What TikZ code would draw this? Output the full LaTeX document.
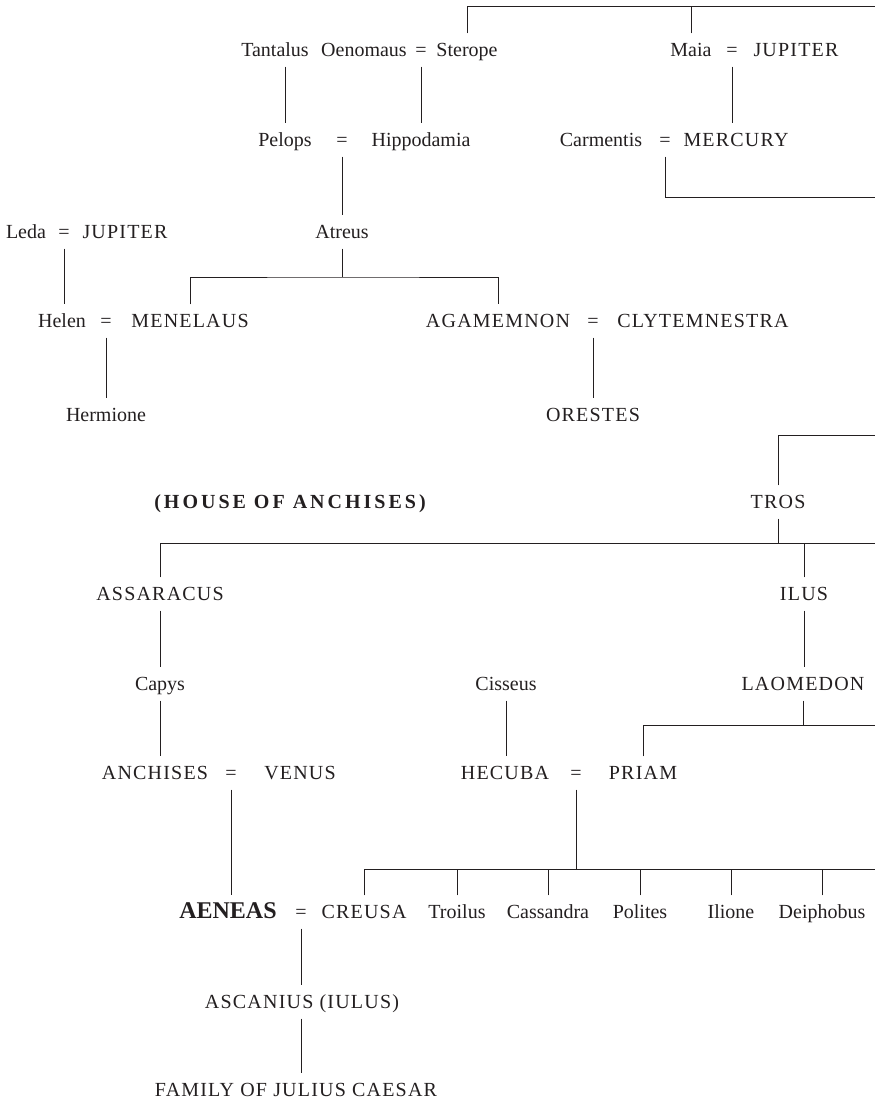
\documentclass[tikz,border=0pt]{standalone}
\usepackage{fontspec}
\setmainfont{Liberation Serif}
\newfontfamily\capsfont[LetterSpace=6]{Liberation Serif}
\newfontfamily\housefont[LetterSpace=15]{Liberation Serif}
\usepackage{tikz}
\definecolor{ink}{HTML}{231F20}
\tikzset{
  kin/.style={
    inner xsep=1pt, inner ysep=8pt, text height=15pt, text depth=2pt,
    text=ink, font=\fontsize{20}{23}\selectfont
  },
  royal/.style={kin, font=\fontsize{20}{23}\selectfont\capsfont},
  wed/.style={kin},
  hero/.style={kin, font=\fontsize{24}{28}\selectfont\bfseries},
  house/.style={kin, font=\fontsize{20}{23}\selectfont\housefont\bfseries},
  link/.style={draw=ink, line width=0.75pt},
}

\begin{document}
\begin{tikzpicture}[x=1pt, y=-1pt]
  \useasboundingbox (0,0) rectangle (875,1102);

  % Tantalus, Oenomaus and Maia
  \node[kin] (tantalus) at (275,50) {Tantalus};
  \node[kin] (oenomaus) at (364,50) {Oenomaus};
  \node[wed] (w1) at (421,50) {=};
  \node[kin] (sterope) at (467,50) {Sterope};
  \node[kin] (maia) at (691,50) {Maia};
  \node[wed] (w2) at (732,50) {=};
  \node[royal] (jupiter1) at (796,50) {JUPITER};

  \node[kin] (pelops) at (285,140) {Pelops};
  \node[wed] (w3) at (342,140) {=};
  \node[kin] (hippodamia) at (421,140) {Hippodamia};
  \node[kin] (carmentis) at (601,140) {Carmentis};
  \node[wed] (w4) at (665,140) {=};
  \node[royal] (mercury) at (736,140) {MERCURY};

  \node[kin] (leda) at (26,232) {Leda};
  \node[wed] (w5) at (64,232) {=};
  \node[royal] (jupiter2) at (125,232) {JUPITER};
  \node[kin] (atreus) at (342,232) {Atreus};

  \node[kin] (helen) at (62,321) {Helen};
  \node[wed] (w6) at (106,321) {=};
  \node[royal] (menelaus) at (190,321) {MENELAUS};
  \node[royal] (agamemnon) at (498,321) {AGAMEMNON};
  \node[wed] (w7) at (593,321) {=};
  \node[royal] (clytemnestra) at (703,321) {CLYTEMNESTRA};

  \node[kin] (hermione) at (106,415) {Hermione};
  \node[royal] (orestes) at (593,415) {ORESTES};

  % Troy
  \node[house] (anchisesHouse) at (290,502) {(HOUSE OF ANCHISES)};
  \node[royal] (tros) at (778,502) {TROS};
  \node[royal] (assaracus) at (160,594) {ASSARACUS};
  \node[royal] (ilus) at (804,594) {ILUS};
  \node[kin] (capys) at (160,684) {Capys};
  \node[kin] (cisseus) at (506,684) {Cisseus};
  \node[royal] (laomedon) at (803,684) {LAOMEDON};

  \node[royal] (anchises) at (155,773) {ANCHISES};
  \node[wed] (w8) at (231,773) {=};
  \node[royal] (venus) at (300,773) {VENUS};
  \node[royal] (hecuba) at (505,773) {HECUBA};
  \node[wed] (w9) at (576,773) {=};
  \node[royal] (priam) at (643,773) {PRIAM};

  \node[hero] (aeneas) at (228,912) {AENEAS};
  \node[wed] (w10) at (301,912) {=};
  \node[royal] (creusa) at (364,912) {CREUSA};
  \node[kin] (troilus) at (457,912) {Troilus};
  \node[kin] (cassandra) at (548,912) {Cassandra};
  \node[kin] (polites) at (640,912) {Polites};
  \node[kin] (ilione) at (731,912) {Ilione};
  \node[kin] (deiphobus) at (822,912) {Deiphobus};

  \node[royal] (ascanius) at (302,1002) {ASCANIUS (IULUS)};
  \node[royal] (family) at (296,1090) {FAMILY OF JULIUS CAESAR};

  % lines of descent
  \coordinate (topEnd) at (875,6);
  \draw[link] (sterope.north) |- (topEnd);
  \draw[link] (maia.north) -- (maia.north |- topEnd);
  \draw[link] (pelops.north |- tantalus.south) -- (pelops.north);
  \draw[link] (w1.south) -- (hippodamia.north);
  \draw[link] (w2.south) -- (w2.south |- mercury.north);
  \coordinate (mercuryEnd) at (875,197);
  \draw[link] (w4.south) |- (mercuryEnd);

  \draw[link] (w3.south) -- (atreus.north);
  \coordinate (atreusBar) at (342,277);
  \draw[link] (atreus.south) -- (atreusBar);
  \draw[link] (menelaus.north) |- (atreusBar) -| (agamemnon.north);
  \draw[link] (w5.south) -- (w5.south |- helen.north);
  \draw[link] (w6.south) -- (hermione.north);
  \draw[link] (w7.south) -- (orestes.north);

  \coordinate (trosEnd) at (875,435);
  \draw[link] (tros.north) |- (trosEnd);
  \coordinate (trosBar) at (875,543);
  \draw[link] (tros.south) -- (tros.south |- trosBar);
  \draw[link] (assaracus.north) |- (trosBar);
  \draw[link] (ilus.north) -- (ilus.north |- trosBar);
  \draw[link] (assaracus.south) -- (capys.north);
  \draw[link] (capys.south) -- (capys.south |- anchises.north);
  \draw[link] (ilus.south) -- (ilus.south |- laomedon.north);
  \draw[link] (cisseus.south) -- (cisseus.south |- hecuba.north);
  \coordinate (laomedonBar) at (875,725);
  \draw[link] (laomedon.south) -- (laomedon.south |- laomedonBar);
  \draw[link] (priam.north) |- (laomedonBar);

  \draw[link] (w8.south) -- (w8.south |- aeneas.north);
  \coordinate (priamBar) at (875,869);
  \draw[link] (w9.south) -- (w9.south |- priamBar);
  \draw[link] (creusa.north) |- (priamBar);
  \foreach \child in {troilus,cassandra,polites,ilione,deiphobus}
    \draw[link] (\child.north) -- (\child.north |- priamBar);
  \draw[link] (w10.south) -- (w10.south |- ascanius.north);
  \draw[link] (w10.south |- ascanius.south) -- (w10.south |- family.north);
\end{tikzpicture}
\end{document}
